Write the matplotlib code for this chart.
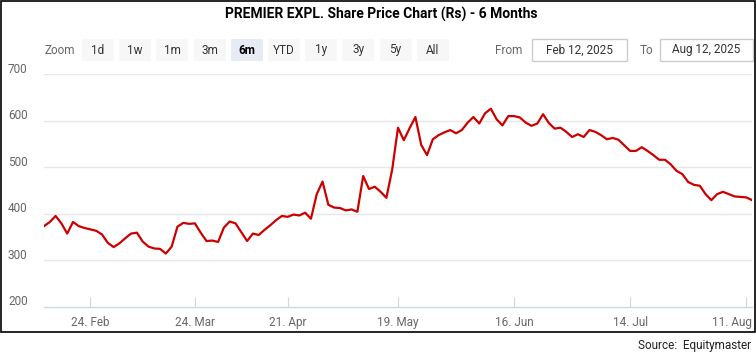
import matplotlib.pyplot as plt
import matplotlib.transforms as mtransforms
from matplotlib.patches import Rectangle

# prix de clôture (Rs), un point par séance, 12 fév -> 12 août 2025
prix = [373, 382, 395, 379, 357, 382, 373, 369, 366, 363,
        355, 337, 328, 336, 347, 357, 359, 340, 329, 325,
        324, 314, 329, 372, 380, 378, 379, 359, 341, 342,
        339, 370, 383, 379, 360, 341, 357, 354, 365, 375,
        386, 395, 393, 398, 396, 402, 389, 442, 469, 419,
        413, 412, 407, 409, 404, 481, 453, 458, 447, 434,
        495, 585, 558, 584, 608, 548, 526, 560, 569, 575,
        580, 573, 580, 596, 608, 594, 616, 626, 603, 590,
        610, 610, 607, 596, 589, 594, 614, 595, 583, 585,
        576, 565, 571, 565, 580, 576, 569, 560, 563, 559,
        547, 535, 535, 543, 535, 526, 516, 516, 506, 492,
        485, 468, 462, 460, 442, 429, 442, 447, 442, 437,
        436, 435, 429]
seances = list(range(len(prix)))

# étiquettes de l'axe x (index de séance)
pos_x = [8, 26, 42, 61, 81, 101, 121]
lab_x = ["24. Feb", "24. Mar", "21. Apr", "19. May", "16. Jun", "14. Jul", "11. Aug"]
ticks_y = [200, 300, 400, 500, 600, 700]

boutons = ["1d", "1w", "1m", "3m", "6m", "YTD", "1y", "3y", "5y", "All"]
actif = "6m"

W, H = 756, 353
plt.rcParams['font.family'] = ['Roboto', 'DejaVu Sans']

fig = plt.figure(figsize=(W / 100, H / 100), dpi=100)


def fx(x):
    return x / W


def fy(y):
    return 1 - y / H


ax = fig.add_axes([fx(44), fy(306.5), fx(752) - fx(44), fy(74.3) - fy(306.5)])
ax.plot(seances, prix, color='#cc0000', lw=1.6, solid_joinstyle='round')
ax.set_xlim(0, len(prix) - 1)
ax.set_ylim(200, 700)

for s in ['top', 'right', 'left']:
    ax.spines[s].set_visible(False)
ax.spines['bottom'].set_color('#ccd6eb')
ax.spines['bottom'].set_linewidth(1)

ax.set_yticks(ticks_y[1:])
ax.yaxis.grid(True, color='#e6e6e6', lw=1)
ax.tick_params(axis='y', length=0, labelleft=False)
for v in ticks_y:
    ax.annotate(str(v), xy=(0, v), xycoords=('axes fraction', 'data'),
                xytext=(-36, 5), textcoords='offset pixels',
                ha='left', va='center', fontsize=8.5, color='#666666')

ax.set_xticks(pos_x)
ax.set_xticklabels(lab_x)
ax.tick_params(axis='x', direction='in', length=7.5, width=0.8, color='#ccd6eb',
               labelsize=8.5, labelcolor='#666666', pad=7)
# dernière étiquette décalée pour rester dans le cadre (comme highcharts)
dern = ax.get_xticklabels()[-1]
dern.set_ha('right')
dern.set_transform(dern.get_transform() + mtransforms.ScaledTranslation(6 / 100, 0, fig.dpi_scale_trans))

# titre
fig.text(fx(381), fy(14), "PREMIER EXPL. Share Price Chart (Rs) - 6 Months",
         ha='center', va='center', fontsize=10, fontweight='bold', color='#000000')

# barre de zoom
fig.text(fx(60), fy(50), "Zoom", ha='center', va='center', fontsize=8.5, color='#666666')
for i, b in enumerate(boutons):
    x0 = 82 + i * 37.2
    fc = '#e6ebf5' if b == actif else '#f7f7f7'
    fig.add_artist(Rectangle((fx(x0), fy(61)), fx(32), fy(39) - fy(61),
                             transform=fig.transFigure, fc=fc, ec='none'))
    fig.text(fx(x0 + 16), fy(50), b, ha='center', va='center', fontsize=8.5,
             color='#000000' if b == actif else '#333333',
             fontweight='bold' if b == actif else 'normal')

fig.text(fx(509), fy(50), "From", ha='center', va='center', fontsize=8.5, color='#666666')
fig.text(fx(646), fy(50), "To", ha='center', va='center', fontsize=8.5, color='#666666')
for x0, x1, txt in [(532, 627, "Feb 12, 2025"), (660, 753, "Aug 12, 2025")]:
    fig.add_artist(Rectangle((fx(x0), fy(61)), fx(x1 - x0), fy(39) - fy(61),
                             transform=fig.transFigure, fc='white', ec='#cccccc', lw=1))
    fig.text(fx((x0 + x1) / 2), fy(50), txt, ha='center', va='center',
             fontsize=8.5, color='#333333')

# cadre noir
fig.add_artist(Rectangle((fx(0.7), fy(332)), fx(754.3), fy(0.5) - fy(332),
                         transform=fig.transFigure, fc='none', ec='black', lw=1.2))

fig.text(fx(751), fy(345), "Source:  Equitymaster", ha='right', va='center',
         fontsize=8.5, color='#222222')

fig.savefig("out.png", dpi=100)
